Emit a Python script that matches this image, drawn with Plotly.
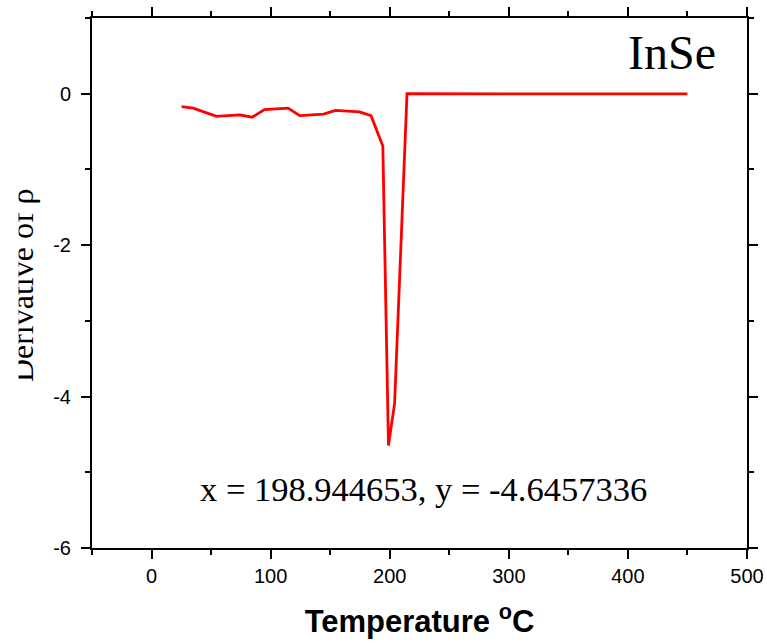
import plotly.graph_objects as go

temperature = [25.2, 35.0, 43.9, 54.5, 74.1, 84.5, 94.8, 114.7, 124.4, 144.5, 154.4,
               174.7, 184.3, 194.2, 198.944653, 204.1, 214.5, 240, 270, 300, 330,
               360, 390, 415, 430, 450]
derivative = [-0.17, -0.19, -0.24, -0.30, -0.28, -0.31, -0.21, -0.19, -0.29, -0.27, -0.22,
              -0.24, -0.29, -0.69, -4.6457336, -4.09, 0.0, 0.0, 0.0, 0.0, 0.0,
              0.0, 0.0, 0.0, -0.008, -0.003]

x_ticks = [0, 100, 200, 300, 400, 500]
x_tick_labels = ["0", "100", "200", "300", "400", "500"]
y_ticks = [-6, -4, -2, 0]
y_tick_labels = ["-6", "-4", "-2", "0"]

sample_label = "InSe"
cursor_label = "x = 198.944653, y = -4.6457336"
x_title = "<b>Temperature <sup>o</sup>C</b>"
y_title = "Derivative of ρ"

fig = go.Figure()
fig.add_trace(go.Scatter(x=temperature, y=derivative, mode="lines",
                         line=dict(color="#ff0000", width=2.8), showlegend=False))

axis_common = dict(
    showgrid=False, zeroline=False, showline=True, linecolor="black", linewidth=2,
    mirror="ticks", ticks="outside", ticklen=9, tickwidth=2, tickcolor="black",
    automargin=False,
    tickfont=dict(family="Liberation Sans, Arial", size=20, color="black"),
)

fig.update_xaxes(range=[-50, 500], tickvals=x_ticks, ticktext=x_tick_labels,
                 minor=dict(dtick=50, tick0=0, ticks="outside", ticklen=5, tickwidth=2, tickcolor="black"),
                 title=dict(text=x_title, standoff=24,
                            font=dict(family="Liberation Sans, Arial", size=31, color="black")),
                 **axis_common)
fig.update_yaxes(range=[-6, 1], tickvals=y_ticks, ticktext=y_tick_labels, ticklabelstandoff=6,
                 minor=dict(dtick=1, tick0=0, ticks="outside", ticklen=5, tickwidth=2, tickcolor="black"),
                 **axis_common)

fig.add_annotation(x=476, y=0.54, xref="x", yref="y", text=sample_label, showarrow=False,
                   xanchor="right", yanchor="middle",
                   font=dict(family="Liberation Serif, Times New Roman", size=48, color="black"))
fig.add_annotation(x=228.4, y=-5.217, xref="x", yref="y", text=cursor_label, showarrow=False,
                   xanchor="center", yanchor="middle",
                   font=dict(family="Liberation Serif, Times New Roman", size=34.5, color="black"))
# y-axis title (partly masked at the left edge as in the reference)
fig.add_annotation(x=0, y=0.496, xref="paper", yref="paper", xshift=-70, text=y_title,
                   showarrow=False, textangle=-90, xanchor="center", yanchor="middle",
                   font=dict(family="Liberation Serif, Times New Roman", size=32, color="black"))
fig.add_annotation(x=0, y=0.496, xref="paper", yref="paper", xshift=-83, text=" ",
                   showarrow=False, width=18, height=260, bgcolor="white", borderpad=0,
                   xanchor="center", yanchor="middle")

fig.update_layout(width=767, height=643, margin=dict(l=92, r=20, t=18, b=95, autoexpand=False),
                  paper_bgcolor="white", plot_bgcolor="white")

fig.write_html("out.html")
